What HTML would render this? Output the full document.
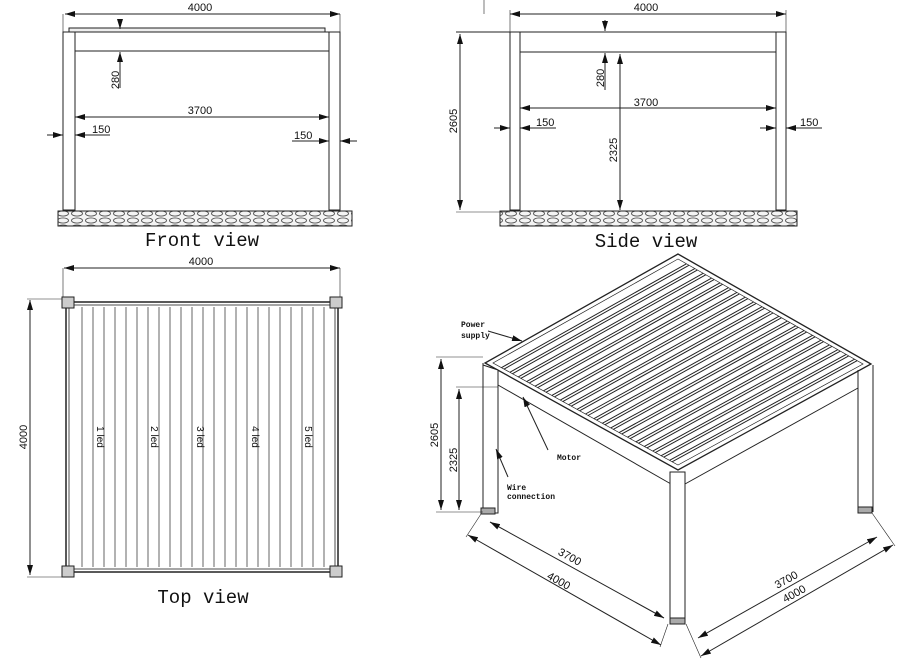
<!DOCTYPE html>
<html><head><meta charset="utf-8"><style>
html,body{margin:0;padding:0;background:#fff}
svg{display:block}
text{font-family:"Liberation Sans",sans-serif;fill:#111}
.m{font-family:"Liberation Mono",monospace;font-weight:bold;font-size:8px}
.led{font-family:"Liberation Serif",serif;font-size:10px}
.t{font-family:"Liberation Mono",monospace;font-size:19px}
</style></head><body>
<svg id="s" width="900" height="659" viewBox="0 0 900 659" xmlns="http://www.w3.org/2000/svg">
<defs>
<marker id="a" viewBox="0 0 10 6" refX="10" refY="3" markerWidth="10" markerHeight="6" orient="auto-start-reverse" markerUnits="userSpaceOnUse"><path d="M0,0L10,3L0,6z" fill="#111"/></marker>
<pattern id="st" width="14" height="7" patternUnits="userSpaceOnUse"><rect width="14" height="7" fill="#f4f4f4"/><ellipse cx="7" cy="3.5" rx="5.5" ry="2.6" fill="none" stroke="#555" stroke-width="0.9"/></pattern>
</defs>
<g stroke="#222" stroke-width="1" fill="none" id="g">
<!-- FRONT VIEW -->
<line x1="65" y1="14" x2="340" y2="14" marker-start="url(#a)" marker-end="url(#a)"/>
<line x1="63" y1="14" x2="63" y2="32" stroke-width=".6"/><line x1="340" y1="14" x2="340" y2="32" stroke-width=".6"/>
<rect x="69" y="28" width="256" height="4" fill="#eee"/>
<line x1="63" y1="32" x2="340" y2="32"/>
<line x1="75" y1="51" x2="329" y2="51"/>
<rect x="63" y="32" width="12" height="178"/><rect x="329" y="32" width="11" height="178"/>
<rect x="58" y="211" width="294" height="15" fill="url(#st)"/>
<line x1="120" y1="20" x2="120" y2="29" marker-end="url(#a)"/><line x1="120" y1="88" x2="120" y2="52" marker-end="url(#a)"/>
<line x1="75" y1="117" x2="329" y2="117" marker-start="url(#a)" marker-end="url(#a)"/>
<line x1="47" y1="135" x2="63" y2="135" marker-end="url(#a)"/><line x1="110" y1="135" x2="75" y2="135" marker-end="url(#a)"/>
<line x1="292" y1="141" x2="329" y2="141" marker-end="url(#a)"/><line x1="357" y1="141" x2="340" y2="141" marker-end="url(#a)"/>
<!-- SIDE VIEW -->
<line x1="484" y1="0" x2="484" y2="14" stroke-width=".6"/>
<line x1="510" y1="14" x2="786" y2="14" marker-start="url(#a)" marker-end="url(#a)"/>
<line x1="510" y1="10" x2="510" y2="32" stroke-width=".6"/><line x1="786" y1="10" x2="786" y2="32" stroke-width=".6"/>
<line x1="456" y1="32" x2="786" y2="32"/>
<line x1="520" y1="52" x2="776" y2="52"/>
<rect x="510" y="32" width="10" height="178"/><rect x="776" y="32" width="10" height="178"/>
<rect x="500" y="211" width="297" height="15" fill="url(#st)"/>
<line x1="456" y1="212" x2="510" y2="212" stroke-width=".6"/>
<line x1="460" y1="34" x2="460" y2="210" marker-start="url(#a)" marker-end="url(#a)"/>
<line x1="620" y1="54" x2="620" y2="210" marker-start="url(#a)" marker-end="url(#a)"/>
<line x1="605" y1="20" x2="605" y2="31" marker-end="url(#a)"/><line x1="605" y1="90" x2="605" y2="53" marker-end="url(#a)"/>
<line x1="520" y1="108" x2="776" y2="108" marker-start="url(#a)" marker-end="url(#a)"/>
<line x1="494" y1="128" x2="510" y2="128" marker-end="url(#a)"/><line x1="556" y1="128" x2="520" y2="128" marker-end="url(#a)"/>
<line x1="760" y1="128" x2="776" y2="128" marker-end="url(#a)"/><line x1="822" y1="128" x2="786" y2="128" marker-end="url(#a)"/>
<!-- TOP VIEW -->
<line x1="64" y1="268" x2="340" y2="268" marker-start="url(#a)" marker-end="url(#a)"/>
<line x1="63" y1="268" x2="63" y2="298" stroke-width=".6"/><line x1="340" y1="268" x2="340" y2="298" stroke-width=".6"/>
<line x1="30" y1="300" x2="30" y2="575" marker-start="url(#a)" marker-end="url(#a)"/>
<line x1="27" y1="299" x2="62" y2="299" stroke-width=".6"/><line x1="27" y1="577" x2="62" y2="577" stroke-width=".6"/>
<rect x="66" y="302" width="272" height="270" stroke-width="1.5"/>
<rect x="69" y="305" width="266" height="264" stroke-width=".8"/>
<rect x="62" y="297" width="12" height="11" fill="#ccc"/><rect x="330" y="297" width="12" height="11" fill="#ccc"/>
<rect x="62" y="566" width="12" height="11" fill="#ccc"/><rect x="330" y="566" width="12" height="11" fill="#ccc"/>
<g id="tslats" stroke="#666"></g>
<!-- ISO -->
<g id="islats" stroke="#222" stroke-width="1"></g>
<polygon points="678,254 485,363 678,470 871,364" stroke-width="1.3"/>
<polygon points="678,259 493,363 678,465 863,364" stroke-width=".7"/>
<line x1="498" y1="385" x2="671" y2="484"/>
<line x1="685" y1="484" x2="858" y2="388"/>
<polygon points="483,365 498,370 498,513 483,513" fill="#fff"/>
<line x1="483" y1="363" x2="483" y2="513"/><line x1="498" y1="370" x2="498" y2="513"/>
<rect x="670" y="472" width="15" height="150" fill="#fff"/>
<line x1="858" y1="370" x2="858" y2="512"/><line x1="873" y1="365" x2="873" y2="512"/>
<rect x="481" y="508" width="14" height="6" fill="#aaa"/><rect x="670" y="618" width="15" height="6" fill="#aaa"/><rect x="858" y="507" width="14" height="6" fill="#aaa"/>
<line x1="436" y1="357" x2="483" y2="357" stroke-width=".6"/><line x1="436" y1="512" x2="483" y2="512" stroke-width=".6"/>
<line x1="456" y1="387" x2="498" y2="387" stroke-width=".6"/>
<line x1="441" y1="359" x2="441" y2="510" marker-start="url(#a)" marker-end="url(#a)"/>
<line x1="459" y1="389" x2="459" y2="510" marker-start="url(#a)" marker-end="url(#a)"/>
<line x1="490" y1="522" x2="664" y2="618" marker-start="url(#a)" marker-end="url(#a)"/>
<line x1="468" y1="535" x2="661" y2="645" marker-start="url(#a)" marker-end="url(#a)"/>
<line x1="481" y1="514" x2="466" y2="537" stroke-width=".6"/><line x1="668" y1="624" x2="660" y2="647" stroke-width=".6"/>
<line x1="698" y1="638" x2="877" y2="537" marker-start="url(#a)" marker-end="url(#a)"/>
<line x1="701" y1="656" x2="893" y2="545" marker-start="url(#a)" marker-end="url(#a)"/>
<line x1="686" y1="624" x2="701" y2="658" stroke-width=".6"/><line x1="872" y1="513" x2="895" y2="546" stroke-width=".6"/>
<line x1="488" y1="331" x2="522" y2="341" marker-end="url(#a)"/>
<line x1="548" y1="450" x2="523" y2="397" marker-end="url(#a)"/>
<line x1="508" y1="477" x2="496" y2="449" marker-end="url(#a)"/>
</g>
<g font-size="11">
<text x="200" y="11" text-anchor="middle">4000</text>
<text x="200" y="114" text-anchor="middle">3700</text>
<text x="92" y="133">150</text><text x="294" y="139">150</text>
<text transform="translate(119,80) rotate(-90)" text-anchor="middle">280</text>
<text x="646" y="11" text-anchor="middle">4000</text>
<text x="646" y="106" text-anchor="middle">3700</text>
<text x="536" y="126">150</text><text x="800" y="126">150</text>
<text transform="translate(604,78) rotate(-90)" text-anchor="middle">280</text>
<text transform="translate(457,121) rotate(-90)" text-anchor="middle">2605</text>
<text transform="translate(617,150) rotate(-90)" text-anchor="middle">2325</text>
<text x="201" y="265" text-anchor="middle">4000</text>
<text transform="translate(27,437) rotate(-90)" text-anchor="middle">4000</text>
<text transform="translate(438,435) rotate(-90)" text-anchor="middle">2605</text>
<text transform="translate(457,460) rotate(-90)" text-anchor="middle">2325</text>
<text transform="translate(568,560) rotate(29)" text-anchor="middle">3700</text>
<text transform="translate(557,584) rotate(29)" text-anchor="middle">4000</text>
<text transform="translate(788,583) rotate(-29)" text-anchor="middle">3700</text>
<text transform="translate(796,597) rotate(-29)" text-anchor="middle">4000</text>
</g>
<g class="led">
<text transform="translate(97,437) rotate(90)" text-anchor="middle">1 led</text>
<text transform="translate(151,437) rotate(90)" text-anchor="middle">2 led</text>
<text transform="translate(197,437) rotate(90)" text-anchor="middle">3 led</text>
<text transform="translate(252,437) rotate(90)" text-anchor="middle">4 led</text>
<text transform="translate(305,437) rotate(90)" text-anchor="middle">5 led</text>
</g>
<text class="m" x="461" y="327">Power</text><text class="m" x="461" y="338">supply</text>
<text class="m" x="557" y="460">Motor</text>
<text class="m" x="507" y="490">Wire</text><text class="m" x="507" y="499">connection</text>
<text class="t" x="202" y="246" text-anchor="middle">Front view</text>
<text class="t" x="646" y="247" text-anchor="middle">Side view</text>
<text class="t" x="203" y="603" text-anchor="middle">Top view</text>
</svg>
<script>
var N="http://www.w3.org/2000/svg";
function L(g,x1,y1,x2,y2){var l=document.createElementNS(N,"line");l.setAttribute("x1",x1);l.setAttribute("y1",y1);l.setAttribute("x2",x2);l.setAttribute("y2",y2);g.appendChild(l);}
var t=document.getElementById("tslats");
for(var x=82;x<=330;x+=11){L(t,x,307,x,567);}
var g=document.getElementById("islats");
var n=22;
for(var i=1;i<n;i++){var f=i/n;
var ax=493+(678-493)*f, ay=363+(465-363)*f, bx=678+(863-678)*f, by=259+(364-259)*f;
L(g,ax,ay,bx,by);L(g,ax+2.5,ay+1.5,bx+2.5,by+1.5);}
</script>
</body></html>
